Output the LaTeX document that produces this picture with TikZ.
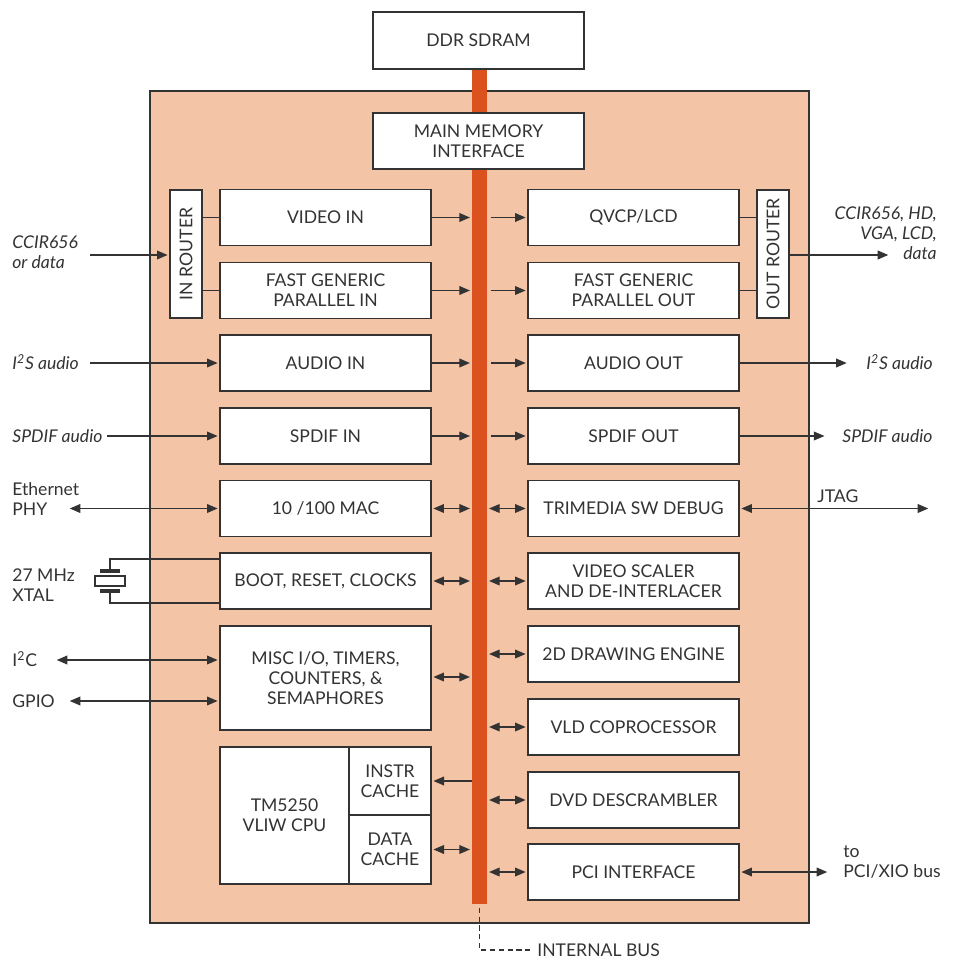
\documentclass[tikz,border=0pt]{standalone}
\usepackage{fontspec}
\setmainfont{Lato}
\usetikzlibrary{arrows.meta}
\usepackage{xcolor}
\definecolor{chipfill}{HTML}{F3C4A6}
\definecolor{busorange}{HTML}{DC521E}
\definecolor{linegray}{HTML}{333333}

\begin{document}
\begin{tikzpicture}[x=0.02cm,y=-0.02cm,font=\fontsize{10}{11.5}\selectfont,text=linegray,
  blk/.style={draw=linegray,fill=white,line width=0.8pt,minimum width=4.22cm,minimum height=1.12cm,align=center,inner sep=1pt},
  ext/.style={inner sep=0pt},
  itx/.style={font=\fontsize{10}{11.5}\selectfont\itshape},
  con/.style={draw=linegray,line width=0.6pt},
  ar/.style={con,-{Triangle[length=6pt,width=5pt]},shorten >=1pt},
  dar/.style={con,{Triangle[length=6pt,width=5pt]}-{Triangle[length=6pt,width=5pt]},shorten >=1pt,shorten <=1pt}]

\useasboundingbox (0,0) rectangle (953,962);
\draw[draw=linegray,fill=chipfill,line width=0.8pt] (150,91) rectangle (809,923);

% internal bus
\node[fill=busorange,minimum width=0.3cm,minimum height=16.7cm,inner sep=0pt] (bus) at (479.5,486.5) {};

\node[blk,minimum height=1.14cm] (ddr) at (478.5,40.5) {DDR SDRAM};
\node[blk] (mmi) at (478.5,141) {MAIN MEMORY\\INTERFACE};

% left column
\node[blk,minimum width=0.64cm,minimum height=2.56cm] (inrt) at (186,254) {\rotatebox{90}{IN ROUTER}};
\node[blk] (vidin) at (325.5,217.5) {VIDEO IN};
\node[blk] (fgpin) at (325.5,290.5) {FAST GENERIC\\PARALLEL IN};
\node[blk] (audin) at (325.5,363) {AUDIO IN};
\node[blk] (spdin) at (325.5,436) {SPDIF IN};
\node[blk] (mac) at (325.5,508.5) {10 /100 MAC};
\node[blk] (boot) at (325.5,581) {BOOT, RESET, CLOCKS};
\node[blk,minimum height=2.08cm] (misc) at (325.5,678) {MISC I/O, TIMERS,\\COUNTERS, \&\\SEMAPHORES};
\node[blk,minimum width=2.58cm,minimum height=2.74cm] (cpu) at (284.5,815.5) {TM5250\\VLIW CPU};
\node[blk,minimum width=1.64cm,minimum height=1.36cm] (icache) at (390,781) {INSTR\\CACHE};
\node[blk,minimum width=1.64cm,minimum height=1.38cm] (dcache) at (390,849.5) {DATA\\CACHE};

% right column
\node[blk,minimum width=0.64cm,minimum height=2.56cm] (outrt) at (773,254) {\rotatebox{90}{OUT ROUTER}};
\node[blk] (qvcp) at (633.5,217.5) {QVCP/LCD};
\node[blk] (fgpout) at (633.5,290.5) {FAST GENERIC\\PARALLEL OUT};
\node[blk] (audout) at (633.5,363) {AUDIO OUT};
\node[blk] (spdout) at (633.5,436) {SPDIF OUT};
\node[blk] (dbg) at (633.5,508.5) {TRIMEDIA SW DEBUG};
\node[blk] (scaler) at (633.5,581) {VIDEO SCALER\\AND DE-INTERLACER};
\node[blk] (draw2d) at (633.5,654) {2D DRAWING ENGINE};
\node[blk] (vld) at (633.5,727) {VLD COPROCESSOR};
\node[blk] (dvd) at (633.5,800) {DVD DESCRAMBLER};
\node[blk] (pci) at (633.5,872) {PCI INTERFACE};

% routers
\draw[con] (inrt.east |- vidin.west) -- (vidin.west);
\draw[con] (inrt.east |- fgpin.west) -- (fgpin.west);
\draw[con] (outrt.west |- qvcp.east) -- (qvcp.east);
\draw[con] (outrt.west |- fgpout.east) -- (fgpout.east);

% to and from the bus
\foreach \n in {vidin,fgpin,audin,spdin}
  \draw[ar] (\n.east) -- (\n.east -| bus.west);
\foreach \n in {qvcp,fgpout,audout,spdout}
  \draw[ar,shorten <=2pt] (bus.east |- \n.west) -- (\n.west);
\foreach \n in {mac,boot,dcache}
  \draw[dar] (\n.east) -- (\n.east -| bus.west);
\draw[dar] (misc.east |- 0,677) -- (bus.west |- 0,677);
\foreach \n in {dbg,scaler,draw2d,vld,dvd,pci}
  \draw[dar] (bus.east |- \n.west) -- (\n.west);
\draw[ar,shorten <=0pt] (bus.west |- icache.east) -- (icache.east);

% outside, left
\node[ext,itx,anchor=west,align=left] (ccir) at (12,252) {CCIR656\\or data};
\coordinate (ccirin) at (90,255);
\draw[ar] (ccirin) -- (ccirin -| inrt.west);
\node[ext,itx,anchor=west] (i2sin) at (12,362) {I\textsuperscript{2}S audio};
\coordinate (i2sinpt) at (90,363);
\draw[ar] (i2sinpt) -- (audin.west);
\node[ext,itx,anchor=west] (spdifin) at (12,436) {SPDIF audio};
\coordinate (spdifinpt) at (107,436);
\draw[ar] (spdifinpt) -- (spdin.west);
\node[ext,anchor=west,align=left] (eth) at (12,499) {Ethernet\\PHY};
\coordinate (ethpt) at (68,508.5);
\draw[dar] (ethpt) -- (mac.west);
\node[ext,anchor=west,align=left] (xtal) at (12,585) {27 MHz\\XTAL};
\node[ext,anchor=west] (i2c) at (12,659) {I\textsuperscript{2}C};
\coordinate (i2cpt) at (55,660);
\draw[dar] (i2cpt) -- (i2cpt -| misc.west);
\node[ext,anchor=west] (gpio) at (12,701) {GPIO};
\coordinate (gpiopt) at (68,701);
\draw[dar] (gpiopt) -- (gpiopt -| misc.west);

% crystal
\draw[con] (110,570) |- (boot.west |- 0,559);
\draw[con] (110,592) |- (boot.west |- 0,603);
\draw[draw=linegray,line width=1.8pt] (100,571) -- (120,571);
\draw[draw=linegray,line width=1.8pt] (100,591) -- (120,591);
\draw[draw=linegray,fill=white,line width=0.8pt] (95,576) rectangle (125,586);

% outside, right
\node[ext,itx,anchor=east,align=right] (ccirout) at (937,233) {CCIR656, HD,\\VGA, LCD,\\data};
\coordinate (ccirend) at (890,255);
\draw[ar] (outrt.east |- ccirend) -- (ccirend);
\node[ext,itx,anchor=west] (i2sout) at (866,362) {I\textsuperscript{2}S audio};
\draw[ar] (audout.east) -- ([xshift=-10]i2sout.west |- audout.east);
\node[ext,itx,anchor=west] (spdifout) at (842,436) {SPDIF audio};
\draw[ar] (spdout.east) -- ([xshift=-9]spdifout.west |- spdout.east);
\node[ext,anchor=west] (jtag) at (817,496) {JTAG};
\coordinate (jtagpt) at (930,508.5);
\draw[dar] (dbg.east) -- (jtagpt);
\node[ext,anchor=west,align=left] (pcibus) at (843,862) {to\\PCI/XIO bus};
\draw[dar] (pci.east) -- ([xshift=-8]pcibus.west |- pci.east);

% bus label
\node[ext,anchor=west] (ibus) at (537,950) {INTERNAL BUS};
\draw[con,dash pattern=on 3pt off 2pt,shorten <=2pt,shorten >=4pt] (bus.south) |- (ibus.west);

\end{tikzpicture}
\end{document}
